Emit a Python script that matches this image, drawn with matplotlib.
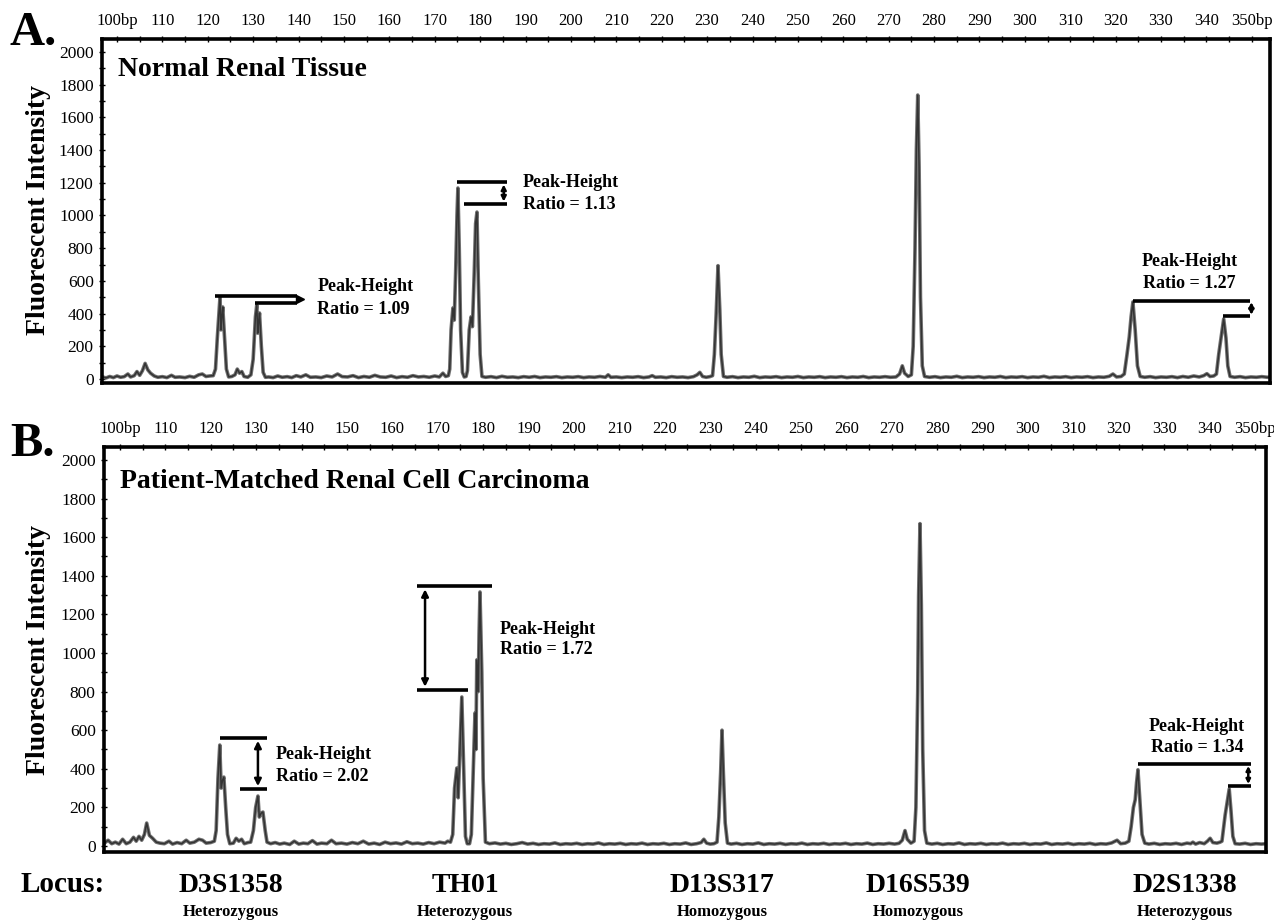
import matplotlib
matplotlib.use('Agg')
import matplotlib.pyplot as plt
from matplotlib.ticker import MultipleLocator

plt.rcParams['font.family'] = ['Liberation Serif', 'DejaVu Serif']

#===============================================================================
# data (size in bp, fluorescent intensity)
bp_ticks  = [100, 110, 120, 130, 140, 150, 160, 170, 180, 190, 200, 210, 220,
             230, 240, 250, 260, 270, 280, 290, 300, 310, 320, 330, 340, 350]
bp_labels = ['100bp'] + [str(v) for v in bp_ticks[1:-1]] + ['350bp']
y_ticks   = [0, 200, 400, 600, 800, 1000, 1200, 1400, 1600, 1800, 2000]

# A. normal renal tissue
a_bp  = [96.8, 97.6, 98.4, 99.2, 100.0, 100.8, 101.6, 102.4, 103.0, 103.8, 104.4, 105.0, 105.6, 106.2, 106.8, 107.4,
         108.2, 109.0, 110.0, 111.0, 112.0, 112.8, 113.8, 115.0, 116.0, 117.0, 118.0, 118.8, 119.6, 120.4, 121.2,
         121.7, 122.1, 122.5, 122.7, 122.9, 123.1, 123.3, 123.7, 124.1, 124.6,
         125.3, 126.0, 126.5, 127.0, 127.5, 128.0, 128.8,
         129.5, 130.0, 130.5, 130.8, 131.0, 131.2, 131.4, 131.8, 132.2, 132.7,
         133.4, 134.4, 135.4, 136.4, 137.5, 138.5, 139.5, 140.5, 141.6, 142.6, 143.8, 145.0, 146.2, 147.4, 148.6,
         149.6, 150.8, 152.0, 153.2, 154.4, 155.6, 156.8, 158.0, 159.2, 160.4, 161.6, 162.8, 164.0, 165.2, 166.4,
         167.6, 168.8, 170.0, 171.0, 171.8, 172.4, 173.0,
         173.3, 173.6, 174.0, 174.3, 174.6, 174.9, 175.1, 175.4, 175.7, 176.1, 176.5, 176.9,
         177.2, 177.6, 178.0, 178.3, 178.7, 179.0, 179.3, 179.6, 180.0, 180.4,
         181.2, 182.4, 183.6, 184.8, 186.0, 187.2, 188.4, 189.6, 190.8, 192.0, 193.2, 194.4, 195.6, 196.8, 198.0,
         199.2, 200.4, 201.6, 202.8, 204.0, 205.2, 206.4, 207.6, 208.2, 208.8, 210.0, 211.2, 212.4, 213.6, 214.8,
         216.0, 217.2, 217.9, 218.6, 219.8, 221.0, 222.2, 223.4, 224.6, 225.8, 227.0, 227.8, 228.4, 229.0, 229.8,
         230.6, 231.2, 231.6, 232.0, 232.4, 232.8, 233.1, 233.6,
         234.4, 235.6, 236.8, 238.0, 239.2, 240.4, 241.6, 242.8, 244.0, 245.2, 246.4, 247.6, 248.8, 250.0, 251.2,
         252.4, 253.6, 254.8, 256.0, 257.2, 258.4, 259.6, 260.8, 262.0, 263.2, 264.4, 265.6, 266.8, 268.0, 269.2,
         270.4, 271.6, 272.4, 273.0, 273.5, 274.3,
         275.0, 275.4, 275.8, 276.1, 276.4, 276.7, 277.0, 277.4, 277.9,
         279.0, 280.2, 281.4, 282.6, 283.8, 285.0, 286.2, 287.4, 288.6, 289.8, 291.0, 292.2, 293.4, 294.6, 295.8,
         297.0, 298.2, 299.4, 300.6, 301.8, 303.0, 304.2, 305.4, 306.6, 307.8, 309.0, 310.2, 311.4, 312.6, 313.8,
         315.0, 316.2, 317.4, 318.6, 319.4, 320.2, 321.2,
         321.9, 322.5, 323.0, 323.4, 323.8, 324.3, 324.8, 325.4,
         326.4, 327.6, 328.8, 330.0, 331.2, 332.4, 333.6, 334.8, 336.0, 337.2, 338.4, 339.4, 340.1, 340.8, 341.6,
         342.2, 342.7, 343.2, 343.8, 344.3, 344.7, 345.2,
         346.2, 347.4, 348.6, 349.8, 351.0, 352.2, 353.4, 354.0]
a_rfu = [12, 6, 15, 8, 18, 10, 14, 30, 12, 20, 45, 22, 50, 95, 55, 35,
         18, 10, 14, 8, 22, 10, 12, 8, 16, 10, 25, 30, 15, 18, 20,
         60, 250, 420, 502, 300, 380, 440, 250, 60, 12,
         15, 25, 60, 35, 45, 15, 10,
         25, 120, 380, 453, 280, 350, 403, 200, 40, 10,
         12, 8, 18, 10, 14, 8, 20, 12, 25, 10, 12, 8, 18, 12, 30,
         14, 12, 20, 8, 15, 10, 22, 12, 10, 18, 8, 14, 10, 20, 12,
         15, 10, 18, 12, 35, 15, 20,
         60, 300, 434, 360, 650, 1000, 1168, 800, 300, 40, 12, 15,
         50, 300, 380, 320, 650, 950, 1021, 600, 150, 15,
         10, 14, 8, 16, 10, 12, 8, 14, 10, 15, 8, 12, 10, 14, 8,
         12, 10, 14, 8, 12, 10, 15, 10, 25, 10, 12, 8, 12, 10, 14,
         8, 12, 20, 10, 12, 8, 14, 10, 12, 8, 14, 25, 40, 15, 10,
         14, 20, 150, 400, 693, 420, 150, 15,
         10, 14, 8, 12, 10, 16, 8, 12, 10, 14, 8, 12, 10, 15, 8,
         12, 10, 14, 8, 12, 10, 14, 8, 12, 10, 15, 8, 12, 10, 14,
         10, 12, 30, 80, 35, 15,
         25, 200, 800, 1400, 1737, 1300, 500, 80, 15,
         10, 14, 8, 12, 10, 16, 8, 12, 10, 14, 8, 12, 10, 15, 8,
         12, 10, 14, 8, 12, 10, 16, 8, 12, 10, 14, 8, 12, 10, 14,
         8, 12, 10, 16, 30, 12, 15,
         30, 150, 257, 380, 471, 300, 80, 15,
         10, 14, 8, 12, 10, 14, 8, 15, 10, 18, 12, 20, 32, 15, 18,
         30, 150, 250, 367, 250, 80, 15,
         10, 14, 8, 12, 10, 14, 10, 12]

# B. patient-matched renal cell carcinoma
b_bp  = [96.6, 97.4, 98.2, 99.0, 99.8, 100.6, 101.4, 102.2, 103.0, 103.6, 104.2, 104.8, 105.4, 105.9, 106.5, 107.2,
         108.0, 108.8, 109.8, 110.8, 111.6, 112.6, 113.6, 114.6, 115.4, 116.4, 117.4, 118.2, 119.0, 120.0, 120.8,
         121.2, 121.6, 122.0, 122.3, 122.6, 122.9, 123.3, 123.7, 124.2,
         125.0, 125.6, 126.2, 126.8, 127.4, 128.2,
         128.8, 129.4, 129.9, 130.4, 130.7, 131.1, 131.5, 132.0, 132.4,
         133.2, 134.2, 135.2, 136.2, 137.4, 138.4, 139.4, 140.4, 141.4, 142.4, 143.4, 144.4, 145.6, 146.6, 147.6,
         148.8, 150.0, 151.2, 152.4, 153.6, 154.8, 156.0, 157.2, 158.4, 159.6, 160.8, 162.0, 163.2, 164.4, 165.6,
         166.8, 168.0, 169.2, 170.4, 171.6, 172.2,
         172.8, 173.3, 173.7, 174.2, 174.5, 174.8, 175.1, 175.3, 175.7, 176.1, 176.5, 177.0,
         177.4, 177.9, 178.2, 178.4, 178.6, 178.9, 179.1, 179.3, 179.7, 180.0, 180.5,
         181.4, 182.6, 183.8, 185.0, 186.2, 187.4, 188.6, 189.8, 191.0, 192.2, 193.4, 194.6, 195.8, 197.0, 198.2,
         199.4, 200.6, 201.8, 203.0, 204.2, 205.4, 206.6, 207.8, 209.0, 210.2, 211.4, 212.6, 213.8, 215.0, 216.2,
         217.4, 218.6, 219.8, 221.0, 222.2, 223.4, 224.6, 225.8, 227.0, 228.0, 228.6, 229.2, 230.0, 230.8,
         231.5, 231.9, 232.3, 232.6, 232.9, 233.3, 233.8,
         234.6, 235.8, 237.0, 238.2, 239.4, 240.6, 241.8, 243.0, 244.2, 245.4, 246.6, 247.8, 249.0, 250.2, 251.4,
         252.6, 253.8, 255.0, 256.2, 257.4, 258.6, 259.8, 261.0, 262.2, 263.4, 264.6, 265.8, 267.0, 268.2, 269.4,
         270.6, 271.6, 272.3, 272.9, 273.4, 274.2,
         274.9, 275.3, 275.7, 275.9, 276.2, 276.5, 276.8, 277.2, 277.7,
         278.8, 280.0, 281.2, 282.4, 283.6, 284.8, 286.0, 287.2, 288.4, 289.6, 290.8, 292.0, 293.2, 294.4, 295.6,
         296.8, 298.0, 299.2, 300.4, 301.6, 302.8, 304.0, 305.2, 306.4, 307.6, 308.8, 310.0, 311.2, 312.4, 313.6,
         314.8, 316.0, 317.2, 318.4, 319.6, 320.4, 321.4,
         322.2, 322.7, 323.2, 323.6, 323.9, 324.2, 324.6, 325.1, 325.7,
         326.6, 327.8, 329.0, 330.2, 331.4, 332.6, 333.8, 335.0, 335.8, 336.3, 336.9, 337.8, 338.8, 339.5, 340.1,
         340.7, 341.6, 342.3,
         342.7, 343.1, 343.4, 343.8, 344.3, 344.7, 345.1, 345.6,
         346.6, 347.8, 349.0, 350.2, 351.4, 352.4]
b_rfu = [15, 30, 12, 20, 10, 35, 12, 20, 45, 25, 50, 30, 60, 119, 55, 40,
         20, 15, 12, 25, 10, 18, 12, 30, 15, 20, 35, 30, 15, 18, 25,
         80, 350, 523, 300, 340, 357, 200, 60, 12,
         15, 40, 25, 35, 12, 18,
         20, 80, 200, 259, 150, 170, 176, 80, 20,
         12, 18, 10, 15, 8, 25, 10, 15, 12, 28, 10, 15, 12, 30, 12,
         15, 10, 18, 12, 25, 10, 15, 8, 20, 12, 16, 10, 22, 12, 15,
         10, 18, 12, 20, 15, 25,
         20, 60, 300, 404, 250, 450, 650, 772, 400, 50, 12, 12,
         60, 450, 689, 500, 964, 800, 1100, 1316, 900, 350, 20,
         12, 16, 10, 14, 8, 12, 18, 10, 14, 8, 12, 10, 16, 8, 12,
         10, 14, 8, 12, 10, 16, 8, 12, 10, 14, 8, 12, 10, 15, 8,
         12, 10, 14, 8, 12, 10, 16, 8, 12, 18, 35, 15, 10, 12,
         20, 150, 380, 600, 380, 120, 15,
         10, 14, 8, 12, 10, 16, 8, 12, 10, 14, 8, 12, 10, 15, 8,
         12, 10, 14, 8, 12, 10, 14, 8, 12, 10, 15, 8, 12, 10, 14,
         10, 14, 30, 80, 35, 15,
         25, 200, 800, 1300, 1670, 1250, 500, 80, 15,
         10, 14, 8, 12, 10, 16, 8, 12, 10, 14, 8, 12, 10, 15, 8,
         12, 10, 14, 8, 12, 10, 16, 8, 12, 10, 14, 8, 12, 10, 14,
         8, 12, 10, 16, 30, 12, 15,
         25, 100, 200, 240, 330, 395, 250, 60, 15,
         10, 14, 8, 12, 10, 14, 8, 15, 12, 20, 10, 18, 12, 25, 40,
         18, 15, 20,
         25, 100, 160, 220, 295, 180, 50, 12,
         10, 14, 8, 12, 10, 12]

panel_titles = ['Normal Renal Tissue', 'Patient-Matched Renal Cell Carcinoma']
a_ratios = ['1.09', '1.13', '1.27']
b_ratios = ['2.02', '1.72', '1.34']
loci      = ['D3S1358', 'TH01', 'D13S317', 'D16S539', 'D2S1338']
zygosity  = ['Heterozygous', 'Heterozygous', 'Homozygous', 'Homozygous', 'Heterozygous']

#===============================================================================
W, H = 1274, 924

def fig_box(left, top, right, bottom):
    return [left / W, 1 - bottom / H, (right - left) / W, (bottom - top) / H]

def setup_axis(ax, xlim, ylim):
    ax.set_xlim(*xlim)
    ax.set_ylim(*ylim)
    ax.xaxis.tick_top()
    ax.set_xticks(bp_ticks, bp_labels)
    ax.xaxis.set_minor_locator(MultipleLocator(5))
    ax.tick_params(axis='x', which='both', direction='inout', length=5, width=1,
                   top=True, bottom=False, labelsize=12, pad=5)
    ax.set_yticks(y_ticks)
    ax.yaxis.set_minor_locator(MultipleLocator(100))
    ax.tick_params(axis='y', which='both', direction='inout', length=4, width=1,
                   labelsize=12.5, pad=4)
    for s in ax.spines.values():
        s.set_linewidth(2.6)

def hline(ax, x0, x1, y):
    ax.plot([x0, x1], [y, y], color='black', lw=2.6, solid_capstyle='butt')

def varrow(ax, x, y0, y1, scale):
    ax.annotate('', xy=(x, y1), xytext=(x, y0),
                arrowprops=dict(arrowstyle='<|-|>', color='black', lw=1.8,
                                mutation_scale=scale, shrinkA=0, shrinkB=0))

def ratio_text(ax, x, y1, y2, ratio, ha='left'):
    ax.text(x, y1, 'Peak-Height', fontsize=13, fontweight='bold', ha=ha, va='center')
    ax.text(x, y2, 'Ratio = ' + ratio, fontsize=13, fontweight='bold', ha=ha, va='center')

def trace(ax, x, y):
    # thick grey trace with a darker core, like the scanned electropherogram
    ax.plot(x, y, color='#707070', lw=2.6, solid_joinstyle='round')
    ax.plot(x, y, color='#333333', lw=1.1, solid_joinstyle='round')

fig = plt.figure(figsize=(W / 100, H / 100), dpi=100)

#------------------------------------------------------------------------------- A
ax_a = fig.add_axes(fig_box(102, 39, 1270, 383))
setup_axis(ax_a, (96.7, 354.0), (-25, 2080))
trace(ax_a, a_bp, a_rfu)
ax_a.text(100.2, 1896, panel_titles[0], fontsize=20, fontweight='bold', va='center')

hline(ax_a, 121.6, 139.6, 508)
hline(ax_a, 130.4, 139.6, 465)
ax_a.plot([140.3], [487], marker='>', color='black', ms=6)
ratio_text(ax_a, 144.1, 563, 422, a_ratios[0])

hline(ax_a, 174.9, 185.9, 1205)
hline(ax_a, 176.4, 185.9, 1070)
varrow(ax_a, 185.2, 1190, 1085, 7)
ratio_text(ax_a, 189.4, 1199, 1070, a_ratios[1])

hline(ax_a, 323.8, 349.6, 477)
hline(ax_a, 343.6, 349.6, 385)
varrow(ax_a, 349.9, 470, 392, 7)
ratio_text(ax_a, 336.3, 716, 581, a_ratios[2], ha='center')

#------------------------------------------------------------------------------- B
ax_b = fig.add_axes(fig_box(104, 447, 1266, 852))
setup_axis(ax_b, (96.5, 352.4), (-31, 2067))
trace(ax_b, b_bp, b_rfu)
ax_b.text(100.0, 1886, panel_titles[1], fontsize=20, fontweight='bold', va='center')

hline(ax_b, 122.0, 132.4, 560)
hline(ax_b, 126.4, 132.4, 295)
varrow(ax_b, 130.4, 545, 310, 10)
ratio_text(ax_b, 134.4, 472, 358, b_ratios[0])

hline(ax_b, 165.4, 181.9, 1347)
hline(ax_b, 165.4, 176.7, 808)
varrow(ax_b, 167.2, 1330, 825, 10)
ratio_text(ax_b, 183.7, 1124, 1016, b_ratios[1])

hline(ax_b, 324.2, 349.1, 425)
hline(ax_b, 344.0, 349.1, 311)
varrow(ax_b, 348.5, 415, 321, 6)
ratio_text(ax_b, 337.2, 617, 508, b_ratios[2], ha='center')

#------------------------------------------------------------------------------- labels
fig.text(10 / W, 1 - 45 / H, 'A.', fontsize=35, fontweight='bold', va='baseline')
fig.text(10 / W, 1 - 456 / H, 'B.', fontsize=35, fontweight='bold', va='baseline')
for yc in (210, 650):
    fig.text(39 / W, 1 - yc / H, 'Fluorescent Intensity', fontsize=20, fontweight='bold',
             rotation=90, ha='center', va='center')

fig.text(63 / W, 1 - 885 / H, 'Locus:', fontsize=21, fontweight='bold', ha='center', va='center')
locus_x = [231, 465, 722, 918, 1185]
for xc, name, zyg in zip(locus_x, loci, zygosity):
    fig.text(xc / W, 1 - 885 / H, name, fontsize=20, fontweight='bold', ha='center', va='center')
    fig.text(xc / W, 1 - 912 / H, zyg, fontsize=12, fontweight='bold', ha='center', va='center')

plt.savefig('out.png', dpi=100)
